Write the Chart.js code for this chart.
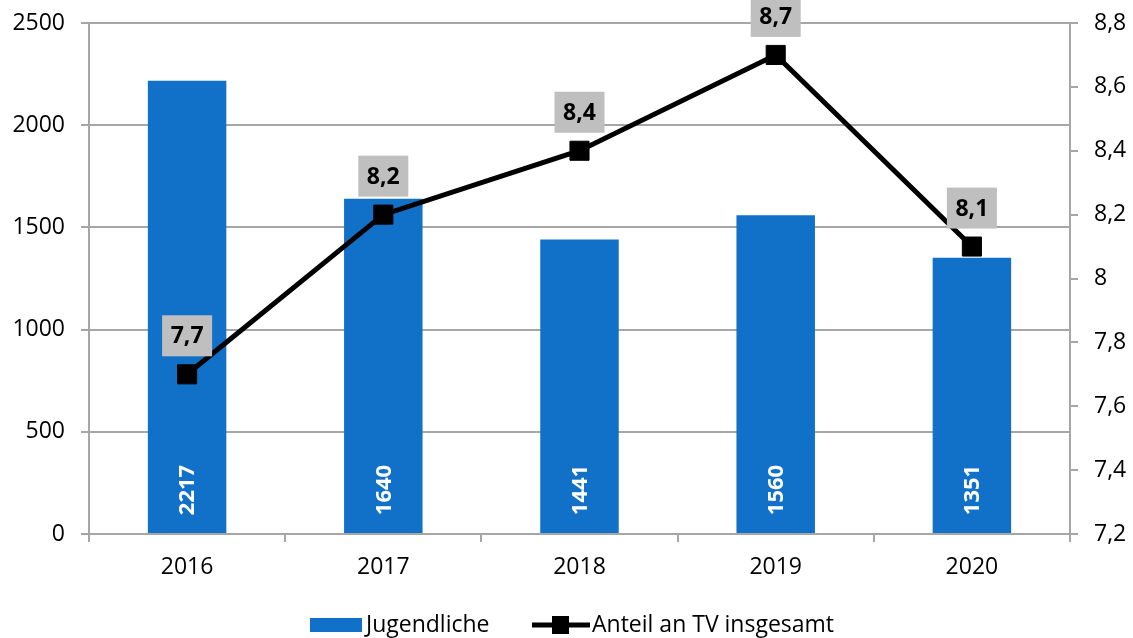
<!DOCTYPE html>
<html><head><meta charset="utf-8">
<script src="https://cdn.jsdelivr.net/npm/chart.js@4"></script>
<style>html,body{margin:0;padding:0;background:#fff}#wrap{width:1133px;height:638px}</style>
</head><body><div id="wrap"><canvas id="c" width="1133" height="638"></canvas></div>
<script>
const categories = ['2016','2017','2018','2019','2020'];
const jugendliche = [2217, 1640, 1441, 1560, 1351];
const anteil = [7.7, 8.2, 8.4, 8.7, 8.1];
const seriesNames = ['Jugendliche', 'Anteil an TV insgesamt'];

const FONT = '"Open Sans", sans-serif';
const GRID = '#A6A6A6';
const BLUE = '#1170C8';

const fmt = v => String(v).replace('.', ',');

const labelPlugin = {
  id: 'labels',
  afterDatasetsDraw(chart) {
    const ctx = chart.ctx;
    // bar labels (dataset index 1)
    const bm = chart.getDatasetMeta(1);
    ctx.save();
    ctx.font = 'bold 22px ' + FONT;
    ctx.fillStyle = '#fff';
    ctx.textAlign = 'center';
    ctx.textBaseline = 'middle';
    bm.data.forEach((el, i) => {
      ctx.save();
      ctx.translate(el.x, el.base - 43);
      ctx.rotate(-Math.PI / 2);
      ctx.fillText(String(jugendliche[i]), 0, 1);
      ctx.restore();
    });
    ctx.restore();
    // line labels (dataset index 0)
    const lm = chart.getDatasetMeta(0);
    ctx.save();
    ctx.font = 'bold 23px ' + FONT;
    ctx.textAlign = 'center';
    ctx.textBaseline = 'middle';
    lm.data.forEach((el, i) => {
      const w = 50, h = 41;
      const bx = el.x - w / 2, by = el.y - 18 - h;
      ctx.fillStyle = '#BFBFBF';
      ctx.fillRect(bx, by, w, h);
      ctx.fillStyle = '#000';
      ctx.fillText(fmt(anteil[i]), el.x, by + h / 2 + 1);
    });
    ctx.restore();
  },
  afterDraw(chart) {
    const ctx = chart.ctx;
    ctx.save();
    const y = 625;
    ctx.fillStyle = BLUE;
    ctx.fillRect(310, 618, 52, 14);
    ctx.font = '23px ' + FONT;
    ctx.fillStyle = '#000';
    ctx.textBaseline = 'middle';
    ctx.textAlign = 'left';
    ctx.fillText(seriesNames[0], 366, y);
    ctx.strokeStyle = '#000';
    ctx.lineWidth = 5;
    ctx.beginPath(); ctx.moveTo(532, y); ctx.lineTo(590, y); ctx.stroke();
    ctx.fillRect(552, y - 9, 17, 18);
    ctx.fillText(seriesNames[1], 592, y);
    ctx.restore();
  }
};

function fixV(w) {
  return function (s) { s.width = w; s.paddingTop = 0; s.paddingBottom = 0; };
}

new Chart(document.getElementById('c'), {
  data: {
    labels: categories,
    datasets: [
      {
        type: 'line', label: seriesNames[1], data: anteil, yAxisID: 'y1',
        borderColor: '#000', borderWidth: 5, backgroundColor: '#000',
        pointStyle: 'rect', pointRadius: 13.5, pointBorderWidth: 1, pointBorderColor: '#000',
        pointHoverRadius: 13.5, tension: 0, order: 0
      },
      {
        type: 'bar', label: seriesNames[0], data: jugendliche, yAxisID: 'y',
        backgroundColor: BLUE, barPercentage: 0.4, categoryPercentage: 1, order: 1
      }
    ]
  },
  plugins: [labelPlugin],
  options: {
    responsive: false, animation: false,
    layout: { padding: { top: 23, left: 0, right: 0, bottom: 0 } },
    plugins: { legend: { display: false }, tooltip: { enabled: false } },
    scales: {
      x: {
        offset: true,
        grid: { display: true, drawOnChartArea: false, drawTicks: true, tickLength: 8, color: GRID, offset: true, lineWidth: 2 },
        border: { display: true, color: GRID, width: 2 },
        ticks: { color: '#000', font: { family: FONT, size: 23 }, padding: 12 },
        afterFit(s) { s.height = 104; s.paddingLeft = 0; s.paddingRight = 0; }
      },
      y: {
        position: 'left', min: 0, max: 2500,
        ticks: { stepSize: 500, color: '#000', font: { family: FONT, size: 23 }, padding: 16,
          callback: v => String(v) },
        grid: { color: GRID, lineWidth: 2, tickLength: 8 },
        border: { display: true, color: GRID, width: 2 },
        afterFit: fixV(89)
      },
      y1: {
        position: 'right', min: 7.2, max: 8.8,
        ticks: { stepSize: 0.2, color: '#000', font: { family: FONT, size: 23 }, padding: 16,
          callback: v => fmt(Math.round(v * 10) / 10) },
        grid: { drawOnChartArea: false, color: GRID, lineWidth: 2, tickLength: 8 },
        border: { display: true, color: GRID, width: 2 },
        afterFit: fixV(63)
      }
    }
  }
});
</script>
</body></html>
